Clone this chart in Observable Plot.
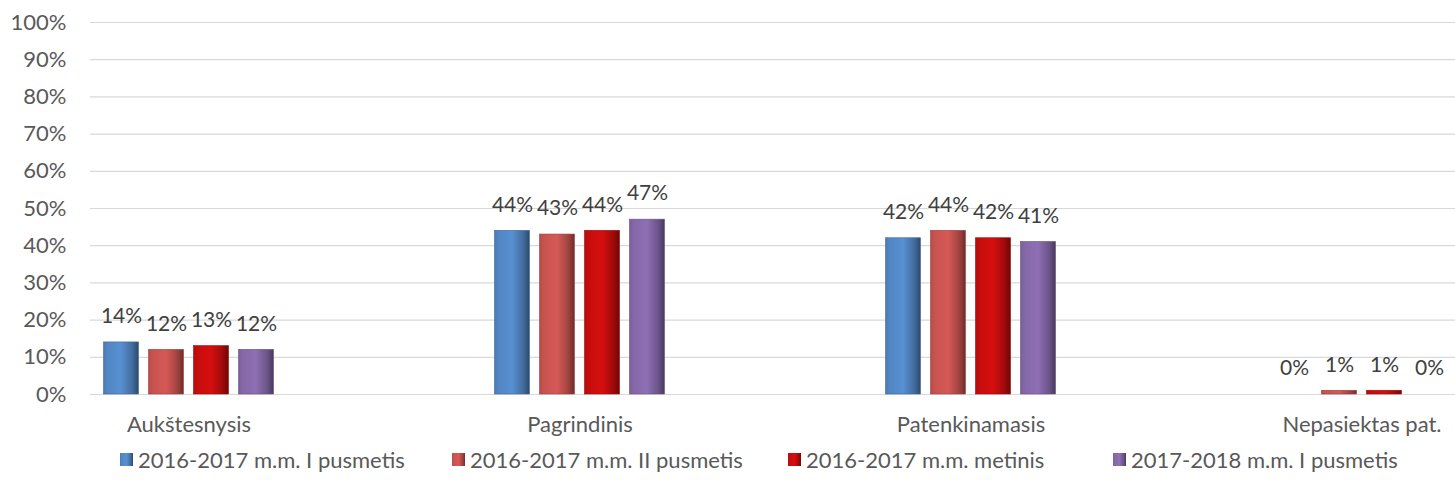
<!DOCTYPE html>
<html>
<head>
<meta charset="utf-8">
<script src="https://cdn.jsdelivr.net/npm/d3@7"></script>
<script src="https://cdn.jsdelivr.net/npm/@observablehq/plot@0.6"></script>
<style>
  html, body { margin: 0; padding: 0; background: #ffffff; }
  #wrap { position: relative; width: 1455px; height: 488px; font-family: Lato, "Open Sans", sans-serif; color: #595959; }
  #legend { position: absolute; left: 0; top: 444px; width: 1455px; height: 30px; font-size: 22px; }
  .item { position: absolute; top: 0; display: flex; align-items: center; height: 30px; white-space: nowrap; }
  .sw { width: 13px; height: 13px; margin-right: 5px; }
</style>
</head>
<body>
<div id="wrap">
  <div id="chart"></div>
  <div id="legend"></div>
</div>
<script>
const categories = ["Aukštesnysis", "Pagrindinis", "Patenkinamasis", "Nepasiektas pat."];
const seriesNames = ["2016-2017 m.m. I pusmetis", "2016-2017 m.m. II pusmetis", "2016-2017 m.m. metinis", "2017-2018 m.m. I pusmetis"];
const s1 = [0.14, 0.44, 0.42, 0.00];
const s2 = [0.12, 0.43, 0.44, 0.01];
const s3 = [0.13, 0.44, 0.42, 0.01];
const s4 = [0.12, 0.47, 0.41, 0.00];
const seriesValues = [s1, s2, s3, s4];
const yTicks = [0, 0.1, 0.2, 0.3, 0.4, 0.5, 0.6, 0.7, 0.8, 0.9, 1.0];

const baseColors = ["#4f81bd", "#c0504d", "#c00d0d", "#8064a2"];
const offsets = [-67.5, -22.5, 22.5, 67.5];
const bandWidth = 391;
const barWidth = 35;
const inset = (bandWidth - barWidth) / 2;
const fmt = d3.format(".0%");

const marks = [
  Plot.ruleY(yTicks, {stroke: "#d9d9d9", strokeWidth: 1.2})
];
seriesValues.forEach((vals, i) => {
  const data = categories.map((c, j) => ({cat: c, v: vals[j]}));
  marks.push(Plot.barY(data, {
    x: "cat", y: "v", dx: offsets[i], insetLeft: inset, insetRight: inset,
    fill: `url(#grad${i})`, stroke: d3.color(baseColors[i]).darker(0.6).formatHex(), strokeWidth: 0.6
  }));
  marks.push(Plot.text(data, {
    x: "cat", y: "v", dx: offsets[i], dy: -26, text: d => fmt(d.v),
    fill: "#404040", fontSize: 21, lineAnchor: "middle"
  }));
});
marks.push(Plot.axisX({tickSize: 0, tickPadding: 22, fontSize: 22, label: null}));
marks.push(Plot.axisY(yTicks, {tickSize: 0, tickPadding: 24, tickFormat: fmt, fontSize: 22, label: null}));

const svg = Plot.plot({
  width: 1455, height: 440,
  marginLeft: 90, marginRight: 0, marginTop: 22, marginBottom: 46,
  style: {fontFamily: "Lato, 'Open Sans', sans-serif", color: "#595959", background: "#ffffff"},
  x: {type: "band", domain: categories, range: [188 - bandWidth / 2, 1362 + bandWidth / 2], padding: 0, label: null},
  y: {domain: [0, 1], label: null},
  marks
});

function addGradients(svgEl, prefix) {
  const defs = d3.select(svgEl).insert("defs", ":first-child");
  baseColors.forEach((c, i) => {
    const col = d3.color(c);
    const g = defs.append("linearGradient").attr("id", prefix + i)
      .attr("x1", "0%").attr("x2", "100%").attr("y1", "0%").attr("y2", "0%");
    const stops = [
      [0, col.darker(0.15)],
      [0.12, col.brighter(0.1)],
      [0.5, col.brighter(0.3)],
      [0.82, col.darker(0.5)],
      [1, col.darker(1.6)]
    ];
    stops.forEach(([o, cc]) => g.append("stop").attr("offset", o).attr("stop-color", cc.formatHex()));
  });
}
addGradients(svg, "grad");
document.getElementById("chart").appendChild(svg);

// Legend
const legendLeft = [120, 452, 788, 1113];
const legend = document.getElementById("legend");
seriesNames.forEach((name, i) => {
  const item = document.createElement("div");
  item.className = "item";
  item.style.left = legendLeft[i] + "px";
  const sw = document.createElementNS("http://www.w3.org/2000/svg", "svg");
  sw.setAttribute("width", 13); sw.setAttribute("height", 13);
  sw.setAttribute("class", "sw");
  addGradients(sw, "lg" + i + "_");
  const r = document.createElementNS("http://www.w3.org/2000/svg", "rect");
  r.setAttribute("width", 13); r.setAttribute("height", 13);
  r.setAttribute("fill", `url(#lg${i}_${i})`);
  sw.appendChild(r);
  const t = document.createElement("span");
  t.textContent = name;
  item.appendChild(sw);
  item.appendChild(t);
  legend.appendChild(item);
});
</script>
</body>
</html>
